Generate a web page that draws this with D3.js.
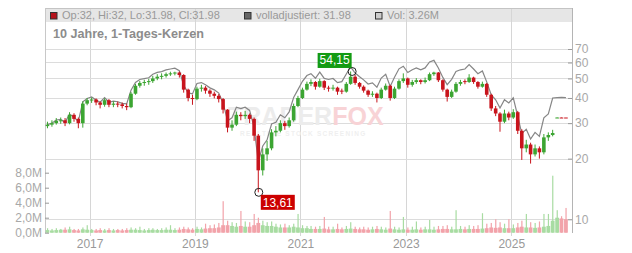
<!DOCTYPE html>
<html>
<head>
<meta charset="utf-8">
<script src="https://cdn.jsdelivr.net/npm/d3@7"></script>
<style>
  body { margin: 0; background: #fff; }
  svg { display: block; font-family: "Liberation Sans", Arial, sans-serif; }
</style>
</head>
<body>
<div id="chart"></div>
<script>
// monthly candles
const months = [
  "2016-03","2016-04","2016-05","2016-06","2016-07","2016-08","2016-09","2016-10","2016-11","2016-12",
  "2017-01","2017-02","2017-03","2017-04","2017-05","2017-06","2017-07","2017-08","2017-09","2017-10","2017-11","2017-12",
  "2018-01","2018-02","2018-03","2018-04","2018-05","2018-06","2018-07","2018-08","2018-09","2018-10","2018-11","2018-12",
  "2019-01","2019-02","2019-03","2019-04","2019-05","2019-06","2019-07","2019-08","2019-09","2019-10","2019-11","2019-12",
  "2020-01","2020-02","2020-03","2020-04","2020-05","2020-06","2020-07","2020-08","2020-09","2020-10","2020-11","2020-12",
  "2021-01","2021-02","2021-03","2021-04","2021-05","2021-06","2021-07","2021-08","2021-09","2021-10","2021-11","2021-12",
  "2022-01","2022-02","2022-03","2022-04","2022-05","2022-06","2022-07","2022-08","2022-09","2022-10","2022-11","2022-12",
  "2023-01","2023-02","2023-03","2023-04","2023-05","2023-06","2023-07","2023-08","2023-09","2023-10","2023-11","2023-12",
  "2024-01","2024-02","2024-03","2024-04","2024-05","2024-06","2024-07","2024-08","2024-09","2024-10","2024-11","2024-12",
  "2025-01","2025-02","2025-03","2025-04","2025-05","2025-06","2025-07","2025-08","2025-09","2025-10","2025-11","2025-12",
  "2026-01"
];

const opens = [
  29.0, 29.5, 30.0, 30.8, 31.0, 30.0, 33.0, 31.5, 30.0, 37.5,
  39.0, 39.3, 38.0, 37.0, 39.0, 37.0, 37.5, 37.2, 36.5, 36.0,
  42.0, 46.0, 47.5, 48.0, 48.5, 50.0, 51.0, 51.5, 52.5, 53.0,
  53.5, 52.0, 44.0, 40.0, 39.5, 44.5, 45.0, 43.5, 42.0, 41.0,
  39.5, 35.0, 28.5, 29.5, 33.0, 32.5, 33.0, 31.5, 26.0, 17.5,
  21.0, 22.5, 27.0, 27.5, 30.0, 29.0, 31.0, 36.5, 40.0, 44.0,
  47.0, 48.0, 45.5, 48.5, 45.0, 44.5, 45.0, 43.5, 43.0, 47.0,
  51.0, 47.5, 45.5, 43.5, 41.5, 42.0, 40.0, 44.0, 46.0, 40.0,
  44.5, 48.5, 50.0, 46.5, 48.0, 49.0, 48.0, 49.0, 52.5, 53.5,
  49.0, 44.0, 40.5, 43.0, 47.0, 48.5, 48.0, 50.5, 48.0, 45.5,
  47.0, 41.5, 35.5, 33.5, 30.5, 33.5, 32.0, 34.0, 27.5, 22.5,
  23.5, 21.0, 22.5, 21.5, 25.5, 26.2, 31.98, 32.0, 32.0
];
const highs = [
  30.5, 31.0, 31.8, 32.0, 31.8, 34.0, 33.6, 32.0, 38.5, 40.0,
  40.2, 39.8, 38.5, 39.8, 39.5, 38.5, 38.4, 38.0, 37.5, 42.8,
  47.0, 48.6, 49.2, 49.8, 51.5, 52.5, 53.0, 53.5, 54.0, 54.0,
  54.1, 52.5, 44.5, 41.5, 45.5, 46.5, 45.8, 44.2, 43.0, 41.8,
  40.0, 35.2, 31.0, 34.2, 34.0, 34.5, 33.5, 32.0, 26.5, 22.5,
  24.5, 28.0, 29.0, 31.0, 30.8, 32.0, 37.5, 41.0, 45.0, 48.2,
  49.5, 48.5, 49.8, 49.0, 46.0, 46.5, 45.5, 44.5, 48.0, 54.15,
  52.0, 48.0, 46.2, 44.0, 43.2, 42.5, 45.0, 47.2, 46.5, 45.5,
  49.5, 53.0, 50.5, 49.2, 50.2, 49.5, 50.5, 53.5, 54.0, 53.8,
  49.5, 44.5, 44.0, 48.0, 49.2, 49.5, 52.5, 51.0, 48.5, 48.2,
  47.5, 42.0, 36.5, 34.0, 35.0, 34.2, 35.2, 34.5, 28.0, 24.8,
  24.0, 23.5, 23.0, 26.5, 27.0, 27.8, 32.1, 32.05, 32.0
];
const lows = [
  28.3, 28.8, 29.5, 29.8, 29.0, 29.6, 30.5, 28.3, 28.5, 36.8,
  37.8, 36.8, 35.5, 36.2, 36.0, 36.0, 36.0, 35.5, 34.8, 35.6,
  41.5, 45.0, 46.0, 46.5, 47.5, 49.0, 49.5, 50.5, 51.5, 51.8,
  50.5, 42.5, 38.5, 37.0, 39.0, 43.0, 42.0, 40.5, 39.8, 38.0,
  33.5, 27.0, 27.5, 29.0, 31.0, 31.5, 30.0, 24.5, 13.61, 16.5,
  19.5, 22.0, 25.8, 27.0, 27.8, 28.5, 30.5, 36.0, 39.5, 43.5,
  45.8, 44.0, 45.0, 43.8, 43.0, 43.5, 41.5, 41.8, 42.5, 46.5,
  46.5, 44.5, 42.5, 40.5, 40.5, 38.0, 39.5, 43.5, 38.8, 39.5,
  44.0, 47.5, 45.0, 45.5, 47.0, 46.8, 47.2, 48.5, 51.5, 48.0,
  43.0, 38.4, 40.0, 42.5, 46.0, 46.8, 47.5, 47.0, 44.5, 45.0,
  40.5, 34.5, 32.5, 27.2, 30.0, 31.0, 31.5, 26.5, 19.7, 21.5,
  18.9, 20.5, 20.0, 21.0, 24.5, 25.8, 31.9, 31.9, 31.98
];
const closes = [
  29.5, 30.0, 30.8, 31.0, 30.0, 33.0, 31.5, 30.0, 37.5, 39.0,
  39.3, 38.0, 37.0, 39.0, 37.0, 37.5, 37.2, 36.5, 36.0, 42.0,
  46.0, 47.5, 48.0, 48.5, 50.0, 51.0, 51.5, 52.5, 53.0, 53.5,
  52.0, 44.0, 40.0, 39.5, 44.5, 45.0, 43.5, 42.0, 41.0, 39.5,
  35.0, 28.5, 29.5, 33.0, 32.5, 33.0, 31.5, 26.0, 17.5, 21.0,
  22.5, 27.0, 27.5, 30.0, 29.0, 31.0, 36.5, 40.0, 44.0, 47.0,
  48.0, 45.5, 48.5, 45.0, 44.5, 45.0, 43.0, 43.0, 47.0, 51.0,
  47.5, 45.5, 43.5, 41.5, 42.0, 40.0, 44.0, 46.0, 40.0, 44.5,
  48.5, 50.0, 46.5, 48.0, 49.0, 48.0, 49.0, 52.5, 53.5, 49.0,
  44.0, 40.5, 43.0, 47.0, 48.0, 48.0, 50.5, 48.0, 45.5, 47.0,
  41.5, 35.5, 33.5, 30.5, 33.5, 32.0, 34.0, 27.5, 22.5, 23.5,
  21.0, 22.5, 21.5, 25.5, 26.2, 26.8, 32.0, 31.98, 31.98
];
// "volladjustiert" grey line
const adjusted = [
  29.5, 30.0, 31.1, 31.3, 30.3, 33.3, 32.1, 30.6, 38.3, 39.8,
  40.5, 39.1, 38.1, 40.2, 38.1, 38.6, 38.3, 37.6, 37.4, 43.7,
  47.8, 49.4, 49.9, 50.4, 52.5, 53.6, 54.1, 55.1, 55.7, 56.2,
  54.6, 46.2, 42.4, 41.9, 47.2, 47.7, 46.5, 44.9, 43.9, 42.3,
  37.8, 30.8, 31.9, 36.0, 35.4, 36.0, 34.7, 28.6, 19.3, 23.1,
  24.8, 29.7, 30.3, 33.0, 31.9, 34.1, 40.2, 44.0, 48.4, 51.7,
  52.8, 50.1, 53.8, 50.0, 49.4, 50.0, 47.7, 48.2, 52.6, 57.1,
  53.2, 51.0, 49.2, 46.9, 47.5, 45.2, 50.2, 52.4, 45.6, 50.7,
  55.8, 57.5, 53.5, 55.2, 56.4, 55.2, 56.4, 60.4, 61.5, 56.4,
  50.6, 46.6, 49.5, 54.1, 55.2, 55.7, 58.6, 55.7, 52.8, 54.5,
  48.1, 41.5, 39.2, 35.7, 39.2, 37.8, 40.1, 32.5, 26.6, 28.0,
  25.0, 27.0, 25.8, 31.9, 33.3, 40.0, 40.2, 40.3, 40.2
];
// volume in millions: typical daily level and largest daily spike per month
const volume = [
  0.35, 0.3, 0.35, 0.4, 0.4, 0.45, 0.35, 0.3, 0.45, 0.4,
  0.35, 0.3, 0.35, 0.3, 0.35, 0.3, 0.35, 0.3, 0.35, 0.4,
  0.4, 0.35, 0.3, 0.35, 0.4, 0.35, 0.35, 0.4, 0.4, 0.35,
  0.4, 0.5, 0.45, 0.4, 0.5, 0.45, 0.55, 0.6, 0.6, 0.7,
  1.0, 1.0, 0.9, 0.8, 0.9, 0.8, 0.8, 1.0, 1.3, 1.0,
  0.9, 0.9, 0.8, 0.7, 0.7, 0.7, 0.8, 0.7, 0.6, 0.6,
  0.5, 0.5, 0.5, 0.55, 0.45, 0.45, 0.5, 0.45, 0.5, 0.55,
  0.5, 0.45, 0.45, 0.4, 0.45, 0.5, 0.45, 0.4, 0.55, 0.45,
  0.4, 0.45, 0.4, 0.4, 0.45, 0.4, 0.45, 0.45, 0.4, 0.45,
  0.5, 0.5, 0.45, 0.45, 0.5, 0.45, 0.5, 0.5, 0.5, 0.55,
  0.6, 0.7, 0.65, 0.7, 0.6, 0.6, 0.6, 0.7, 0.8, 0.7,
  0.7, 0.65, 0.7, 0.8, 0.9, 1.6, 2.0, 1.9, 1.8
];
const volumePeak = [
  0.6, 0.5, 0.6, 0.5, 0.7, 0.8, 0.5, 0.5, 0.7, 1.0,
  0.5, 0.5, 0.6, 0.5, 0.6, 0.5, 0.5, 0.5, 0.6, 0.7,
  0.6, 0.8, 0.5, 0.6, 0.6, 0.5, 0.6, 0.7, 1.0, 0.6,
  0.7, 0.8, 0.7, 0.6, 0.8, 0.7, 1.2, 1.0, 1.1, 1.3,
  4.2, 1.6, 1.4, 1.3, 2.9, 1.5, 1.4, 2.5, 2.0, 1.6,
  1.4, 1.5, 1.2, 1.1, 1.2, 1.0, 1.2, 2.5, 1.0, 0.9,
  0.9, 0.8, 0.9, 2.1, 0.8, 0.8, 1.2, 0.7, 0.9, 1.4,
  0.8, 0.7, 0.8, 0.7, 0.8, 0.9, 0.8, 0.7, 2.9, 0.8,
  0.7, 2.1, 0.7, 0.8, 1.5, 0.7, 0.8, 1.7, 0.8, 0.9,
  0.9, 1.0, 0.8, 3.0, 0.9, 0.8, 1.0, 0.9, 1.0, 2.6,
  1.2, 1.3, 1.8, 1.4, 1.2, 1.8, 1.1, 1.3, 1.6, 2.5,
  1.4, 1.3, 1.5, 2.5, 2.5, 7.6, 3.0, 2.2, 3.3
];

const priceTicks = [10, 20, 30, 40, 50, 60, 70];
const volumeTicks = [0, 2, 4, 6, 8];
const yearTicks = [2017, 2019, 2021, 2023, 2025];

const title = "10 Jahre, 1-Tages-Kerzen";
const legendItems = [
  {label: "Op:32, Hi:32, Lo:31.98, Cl:31.98", fill: "#b5121b"},
  {label: "volladjustiert: 31.98", fill: "#666"},
  {label: "Vol: 3.26M", fill: "#ccc"}
];
const maxLabel = "54,15", minLabel = "13,61";

const W = 632, H = 253;
const plotLeft = 45, plotRight = 572, plotTop = 8, plotBottom = 233;
const upColor = "#3ca532", downColor = "#c8141c";
const upVol = "#a8dca2", downVol = "#f2a3aa";

const svg = d3.select("#chart").append("svg").attr("width", W).attr("height", H);

const parseDay = d3.timeParse("%Y-%m-%d");
const data = months.map((m, i) => ({
  date: parseDay(m + "-15"),
  o: opens[i], h: highs[i], l: lows[i], c: closes[i],
  adj: adjusted[i], vol: volume[i], peak: volumePeak[i]
}));

const x = d3.scaleTime()
  .domain([new Date(2016, 1, 27), new Date(2026, 1, 26)])
  .range([plotLeft, plotRight]);
const y = d3.scaleLog().domain([10, 70]).range([219.3, 49]);
const yVol = d3.scaleLinear().domain([0, 8]).range([232.7, 172.7]);

const crisp = v => Math.round(v) + 0.5;

// legend bar
svg.append("rect").attr("x", plotLeft).attr("y", plotTop).attr("width", plotRight - plotLeft).attr("height", 14)
  .attr("fill", "#e6e6e6");

// grid
const yearDates = yearTicks.map(yr => new Date(yr, 0, 1));
svg.append("g").selectAll("line").data(yearDates).join("line")
  .attr("x1", d => crisp(x(d))).attr("x2", d => crisp(x(d)))
  .attr("y1", plotTop).attr("y2", plotBottom + 3)
  .attr("stroke", "#d6d6d6");
svg.append("g").selectAll("line").data(priceTicks).join("line")
  .attr("x1", plotLeft).attr("x2", plotRight)
  .attr("y1", d => crisp(y(d))).attr("y2", d => crisp(y(d)))
  .attr("stroke", "#dcdcdc");

// frame
svg.append("line").attr("x1", plotLeft).attr("x2", plotRight + 0.5).attr("y1", plotTop + 0.5).attr("y2", plotTop + 0.5).attr("stroke", "#c4c4c4");
svg.append("line").attr("x1", plotLeft + 0.5).attr("x2", plotLeft + 0.5).attr("y1", plotTop).attr("y2", plotBottom).attr("stroke", "#c8c8c8");
svg.append("line").attr("x1", plotRight + 0.5).attr("x2", plotRight + 0.5).attr("y1", plotTop).attr("y2", plotBottom).attr("stroke", "#b4b4b4");

// legend
const legend = svg.append("g");
const lx = [50, 244, 375];
legendItems.forEach((item, i) => {
  legend.append("rect").attr("x", lx[i] + 0.5).attr("y", 12.5).attr("width", 6.5).attr("height", 6.5)
    .attr("fill", item.fill).attr("stroke", "#333");
  legend.append("text").attr("x", lx[i] + 12).attr("y", 19)
    .attr("font-size", 11).attr("fill", "#999").text(item.label);
});

svg.append("text").attr("x", 53).attr("y", 38)
  .attr("font-size", 12.6).attr("font-weight", "bold").attr("fill", "#8c8c8c").text(title);

// watermark
const wm = svg.append("text").attr("x", 228).attr("y", 125)
  .attr("font-size", 25).attr("font-weight", "bold");
wm.append("tspan").attr("fill", "#ececec").text("TRADER");
wm.append("tspan").attr("fill", "#f8d3d6").text("FOX");
svg.append("text").attr("x", 240).attr("y", 136)
  .attr("font-size", 6.5).attr("font-weight", "bold").attr("letter-spacing", 1.2)
  .attr("fill", "#efefef").text("REALTIME STOCK SCREENING");

// volume
const isUp = d => d.c >= d.o;
svg.append("g").selectAll("rect").data(data).join("rect")
  .attr("x", d => x(d.date) - 1.9).attr("width", 3.8)
  .attr("y", d => yVol(d.vol)).attr("height", d => yVol(0) - yVol(d.vol))
  .attr("fill", d => isUp(d) ? upVol : downVol);
svg.append("g").selectAll("rect").data(data).join("rect")
  .attr("x", d => x(d.date) - 0.5).attr("width", 1.2)
  .attr("y", d => yVol(d.peak)).attr("height", d => yVol(0) - yVol(d.peak))
  .attr("fill", d => isUp(d) ? upVol : downVol);

// axes
const volFormat = d3.formatLocale({decimal: ",", thousands: ".", grouping: [3], currency: ["", "€"]}).format(".1f");
const styleAxis = g => {
  g.attr("font-family", null).attr("font-size", 12);
  g.select(".domain").remove();
  g.selectAll(".tick line").attr("stroke", "#999");
  g.selectAll(".tick text").attr("fill", "#a8a8a8");
};
svg.append("g").attr("transform", `translate(${plotRight},0)`)
  .call(d3.axisRight(y).tickValues(priceTicks).tickFormat(d3.format("d"))
    .tickSizeInner(-4).tickSizeOuter(0).tickPadding(3))
  .call(styleAxis);
svg.append("g").attr("transform", `translate(${plotLeft},0)`)
  .call(d3.axisLeft(yVol).tickValues(volumeTicks).tickFormat(d => volFormat(d) + "M")
    .tickSizeInner(-4).tickSizeOuter(0).tickPadding(3))
  .call(styleAxis);
svg.append("g").attr("transform", `translate(0,${plotBottom})`)
  .call(d3.axisBottom(x).tickValues(yearDates).tickFormat(d3.timeFormat("%Y"))
    .tickSize(0).tickPadding(6.5))
  .call(styleAxis)
  .call(g => g.selectAll(".tick text").attr("fill", "#999"));

// adjusted line
svg.append("path").datum(data)
  .attr("d", d3.line().x(d => x(d.date)).y(d => y(d.adj)))
  .attr("fill", "none").attr("stroke", "#868686").attr("stroke-width", 1.2);

// candles
const candles = svg.append("g").selectAll("g").data(data).join("g");
candles.append("line")
  .attr("x1", d => x(d.date)).attr("x2", d => x(d.date))
  .attr("y1", d => y(d.h)).attr("y2", d => y(d.l))
  .attr("stroke", d => isUp(d) ? upColor : downColor);
candles.append("rect")
  .attr("x", d => x(d.date) - 1.8).attr("width", 3.6)
  .attr("y", d => y(Math.max(d.o, d.c)))
  .attr("height", d => Math.max(1, Math.abs(y(d.o) - y(d.c))))
  .attr("fill", d => isUp(d) ? upColor : downColor);

// high / low markers
const hi = data[d3.maxIndex(data, d => d.h)];
const lo = data[d3.minIndex(data, d => d.l)];
const hx = x(hi.date), hy = y(hi.h), lox = x(lo.date), loy = y(lo.l);
svg.append("circle").attr("cx", hx + 1.5).attr("cy", hy).attr("r", 4)
  .attr("fill", "none").attr("stroke", "#222");
svg.append("rect").attr("x", hx - 33).attr("y", hy - 18.5).attr("width", 34).attr("height", 15)
  .attr("fill", "#139b13");
svg.append("text").attr("x", hx - 16).attr("y", hy - 7).attr("text-anchor", "middle")
  .attr("font-size", 12).attr("fill", "#fff").text(maxLabel);

svg.append("circle").attr("cx", lox + 0.5).attr("cy", loy).attr("r", 4)
  .attr("fill", "none").attr("stroke", "#222");
svg.append("rect").attr("x", lox + 2.5).attr("y", loy + 2.5).attr("width", 34).attr("height", 15)
  .attr("fill", "#cc0000");
svg.append("text").attr("x", lox + 19.5).attr("y", loy + 14.5).attr("text-anchor", "middle")
  .attr("font-size", 12).attr("fill", "#fff").text(minLabel);
</script>
</body>
</html>
